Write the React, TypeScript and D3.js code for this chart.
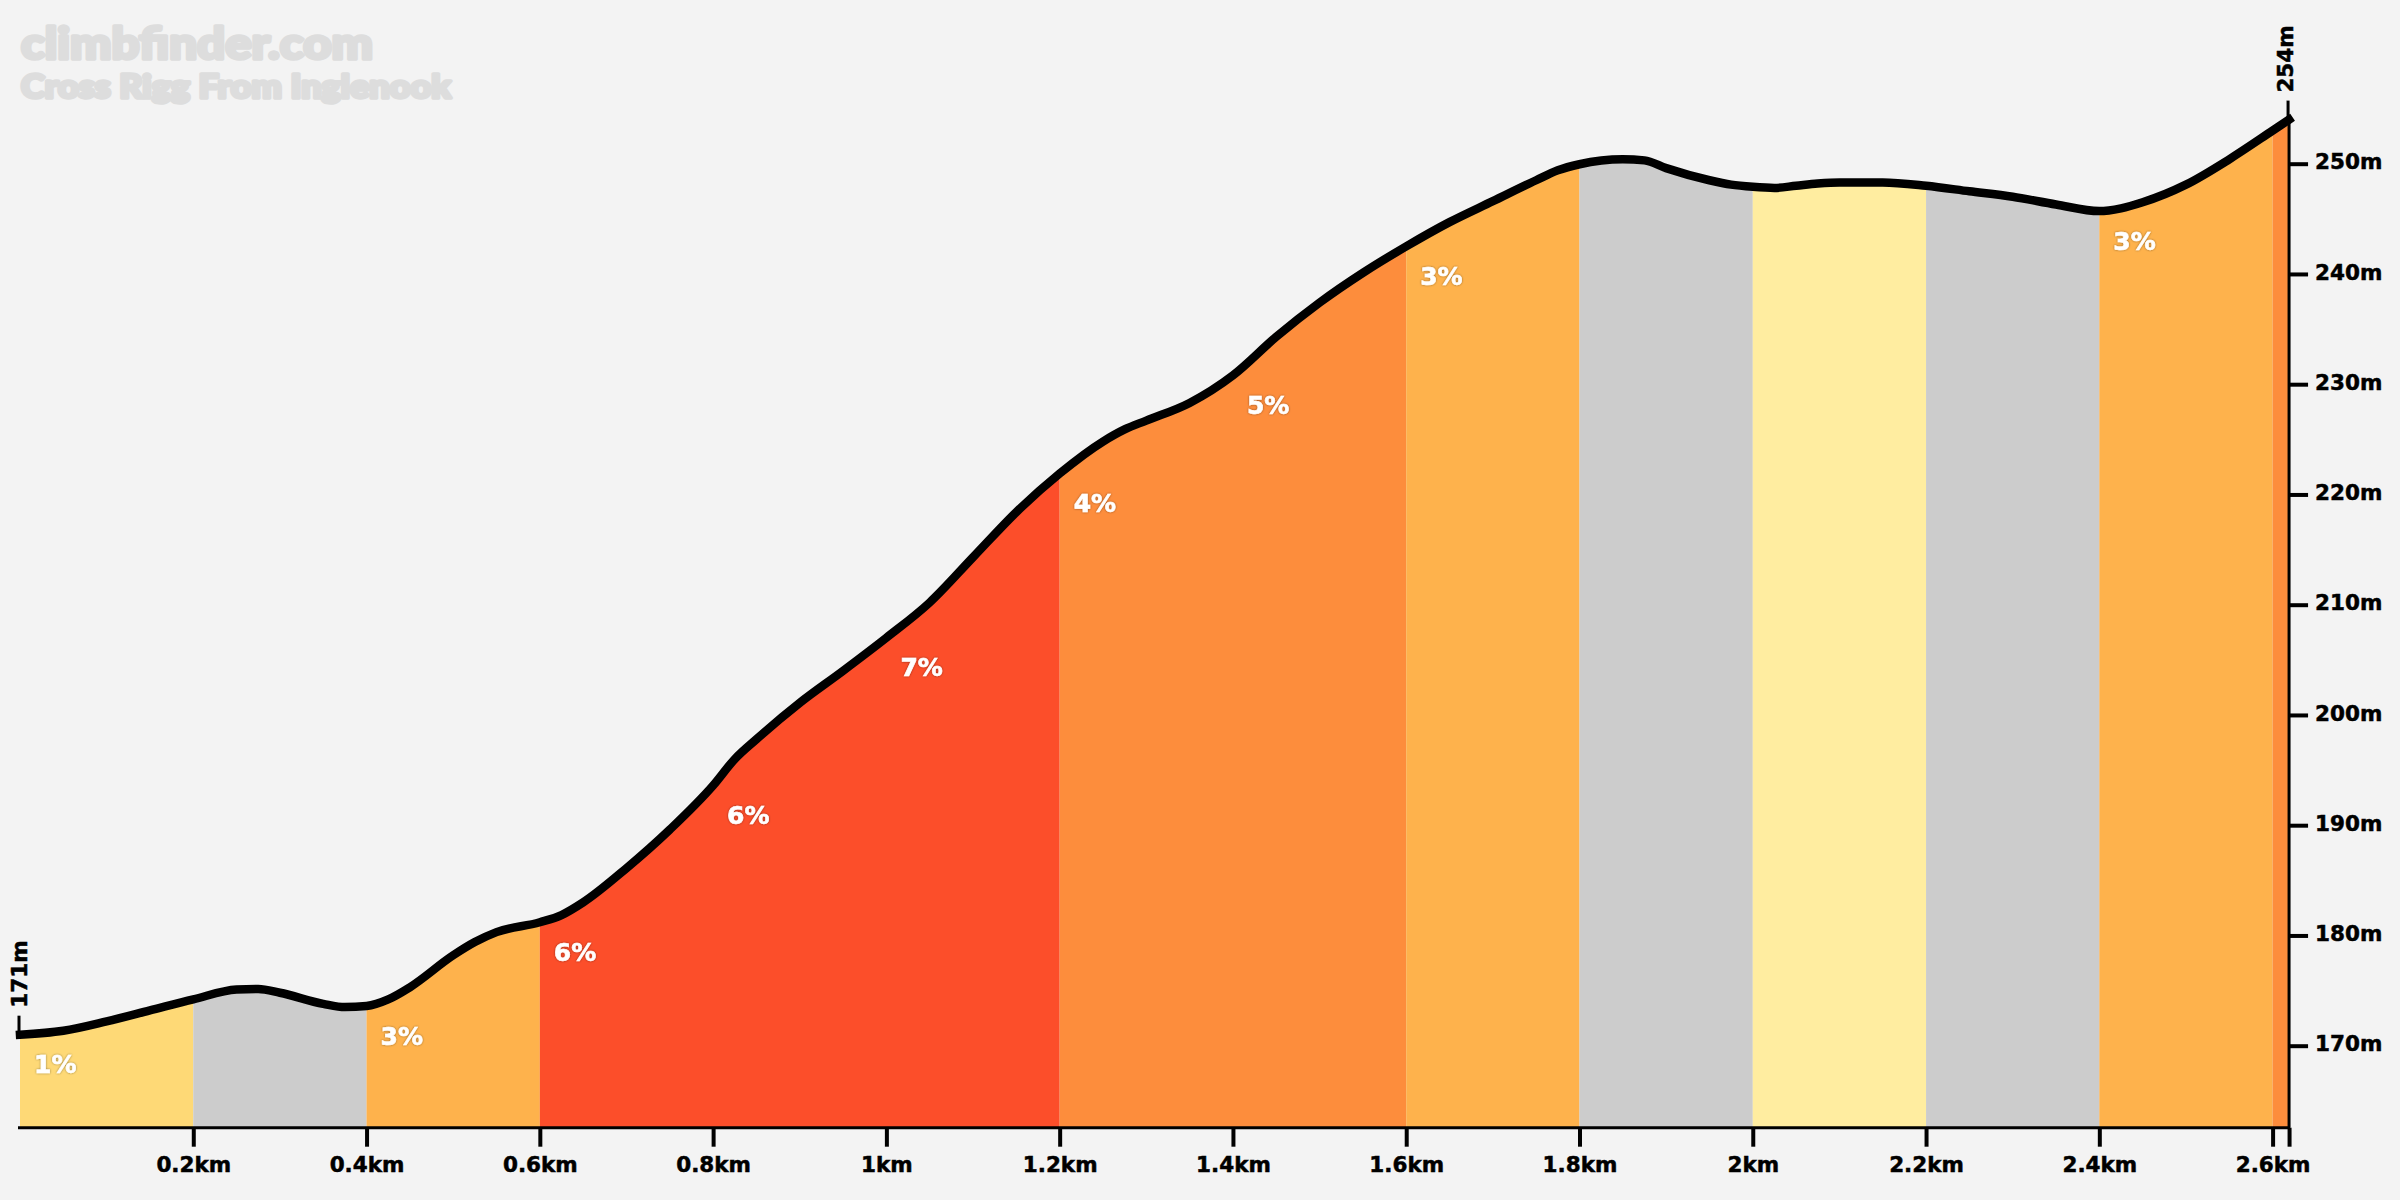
import * as d3 from 'd3';
import { useEffect, useRef } from 'react';

const distances = [
  0, 0.05, 0.1, 0.15, 0.2, 0.25, 0.275, 0.3, 0.35, 0.375, 0.4, 0.425, 0.45, 0.5, 0.525, 0.55, 0.6, 0.625, 0.65, 0.7,
  0.75, 0.8, 0.825, 0.85, 0.9, 0.95, 1, 1.05, 1.1, 1.15, 1.2, 1.25, 1.275, 1.3, 1.35, 1.4, 1.45, 1.5, 1.55, 1.6, 1.65,
  1.7, 1.75, 1.775, 1.8, 1.85, 1.875, 1.9, 1.95, 1.975, 2, 2.025, 2.05, 2.075, 2.1, 2.15, 2.2, 2.25, 2.3, 2.35, 2.4,
  2.425, 2.45, 2.5, 2.55, 2.6, 2.619,
];
const elevations = [
  171, 171.35, 172.2, 173.2, 174.2, 175.1, 175.15, 174.8, 173.8, 173.5, 173.6, 174.2, 175.3, 178.2, 179.4, 180.3, 181.2,
  181.85, 183, 186.1, 189.6, 193.6, 196, 197.8, 201.1, 204, 207, 210.2, 214.3, 218.4, 221.9, 224.8, 225.9, 226.7, 228.3,
  230.8, 234.3, 237.4, 240.1, 242.5, 244.7, 246.6, 248.5, 249.4, 249.95, 250.4, 250.3, 249.6, 248.5, 248.1, 247.9, 247.8,
  248, 248.2, 248.3, 248.3, 248, 247.5, 247, 246.3, 245.7, 245.95, 246.5, 248.1, 250.4, 253, 254,
];

const bandStarts = [0, 0.2, 0.4, 0.6, 1.2, 1.6, 1.8, 2, 2.2, 2.4, 2.6];
const bandEnds = [0.2, 0.4, 0.6, 1.2, 1.6, 1.8, 2, 2.2, 2.4, 2.6, 2.619];
const bandColors = [
  '#FED976', '#CCCCCC', '#FEB24C', '#FC4E2A', '#FD8D3C', '#FEB24C', '#CCCCCC', '#FFEDA0', '#CCCCCC', '#FEB24C', '#FD8D3C',
];

const gradeStarts = [0, 0.4, 0.6, 0.8, 1, 1.2, 1.4, 1.6, 2.4];
const gradeLabels = ['1%', '3%', '6%', '6%', '7%', '4%', '5%', '3%', '3%'];

const kmTicks = [0.2, 0.4, 0.6, 0.8, 1, 1.2, 1.4, 1.6, 1.8, 2, 2.2, 2.4, 2.6, 2.619];
const metreTicks = [170, 180, 190, 200, 210, 220, 230, 240, 250];

const width = 2400;
const height = 1200;
const labelFont = '"DejaVu Sans", sans-serif';

const x = d3.scaleLinear().domain([0, 2.6]).range([20, 2272.6]);
const y = d3.scaleLinear().domain([170, 250]).range([1045.7, 163.7]);
const baseline = 1127.7;
const profile = distances.map((d, i) => [d, elevations[i]] as [number, number]);
const elevationAt = (km: number) => elevations[distances.indexOf(km)];

const linePath = d3
  .line<[number, number]>()
  .x((d) => x(d[0]))
  .y((d) => y(d[1]))
  .curve(d3.curveMonotoneX);

const areaPath = d3
  .area<[number, number]>()
  .x((d) => x(d[0]))
  .y0(baseline)
  .y1((d) => y(d[1]))
  .curve(d3.curveMonotoneX);

export default function App() {
  const bottomRef = useRef<SVGGElement>(null);
  const rightRef = useRef<SVGGElement>(null);

  useEffect(() => {
    const bottom = d3
      .axisBottom(x)
      .tickValues(kmTicks)
      .tickSizeOuter(0)
      .tickSize(19)
      .tickPadding(10.5)
      .tickFormat((d) => (+d === 2.619 ? '' : `${d}km`));
    const right = d3
      .axisRight(y)
      .tickValues(metreTicks)
      .tickSize(19)
      .tickPadding(7)
      .tickFormat((d) => `${d}m`);

    const gx = d3.select(bottomRef.current!).call(bottom as any);
    gx.select('.domain').remove();
    gx.selectAll('line').attr('stroke', '#000').attr('stroke-width', 4);
    gx.selectAll('text')
      .attr('fill', '#000')
      .attr('stroke', '#000')
      .attr('stroke-width', 0.5)
      .style('font-family', labelFont)
      .style('font-weight', 700)
      .style('font-size', '21.5px');

    const gy = d3.select(rightRef.current!).call(right as any);
    gy.select('.domain').remove();
    gy.selectAll('line').attr('stroke', '#000').attr('stroke-width', 4);
    gy.selectAll('text')
      .attr('fill', '#000')
      .attr('stroke', '#000')
      .attr('stroke-width', 0.5)
      .attr('dy', '0.24em')
      .style('font-family', labelFont)
      .style('font-weight', 700)
      .style('font-size', '21.5px');
  }, []);

  return (
    <svg width={width} height={height} style={{ position: 'absolute', left: 0, top: 0, background: '#F3F3F3' }}>
      <defs>
        <clipPath id='profile'>
          <path d={areaPath(profile) ?? ''} />
        </clipPath>
        <filter id='halo' x='-30%' y='-30%' width='160%' height='160%'>
          <feDropShadow dx='0' dy='0' stdDeviation='1.2' floodColor='#000' floodOpacity='0.45' />
        </filter>
      </defs>

      <g fontFamily='Lato, sans-serif' fontWeight={900} fill='#DDDDDD' stroke='#DDDDDD' strokeWidth={3.5} strokeLinejoin='round'>
        <text x={21} y={59} fontSize={43} textLength={352} lengthAdjust='spacingAndGlyphs'>
          climbfinder.com
        </text>
        <text x={21} y={98} fontSize={32} textLength={430} lengthAdjust='spacingAndGlyphs'>
          Cross Rigg From Inglenook
        </text>
      </g>

      <g clipPath='url(#profile)'>
        {bandStarts.map((start, i) => (
          <rect
            key={start}
            x={x(start)}
            y={0}
            width={x(bandEnds[i]) - x(start)}
            height={baseline}
            fill={bandColors[i]}
          />
        ))}
      </g>

      <line x1={18} x2={2290} y1={baseline} y2={baseline} stroke='#000' strokeWidth={3} />
      <line x1={x(2.619)} x2={x(2.619)} y1={y(254)} y2={baseline} stroke='#000' strokeWidth={3} />
      <g ref={bottomRef} transform={`translate(0,${baseline})`} />
      <g ref={rightRef} transform={`translate(${x(2.619)},0)`} />

      <path d={linePath(profile) ?? ''} fill='none' stroke='#000' strokeWidth={8.5} strokeLinecap='square' />

      <g fill='#FFF' stroke='#FFF' strokeWidth={0.6} fontFamily={labelFont} fontWeight={700} fontSize={25} filter='url(#halo)'>
        {gradeStarts.map((start, i) => (
          <text key={start} x={x(start) + 14} y={y(elevationAt(start)) + 38.5}>
            {gradeLabels[i]}
          </text>
        ))}
      </g>

      <line x1={x(0) - 1} x2={x(0) - 1} y1={y(171)} y2={y(171) - 19} stroke='#000' strokeWidth={3} />
      <line x1={x(2.619) - 1} x2={x(2.619) - 1} y1={y(254)} y2={y(254) - 19} stroke='#000' strokeWidth={3} />
      <g fontFamily={labelFont} fontWeight={700} fontSize={21.5} fill='#000' stroke='#000' strokeWidth={0.5}>
        <text transform={`translate(27,${y(171) - 27}) rotate(-90)`}>171m</text>
        <text transform={`translate(2293,${y(254) - 27}) rotate(-90)`}>254m</text>
      </g>
    </svg>
  );
}
